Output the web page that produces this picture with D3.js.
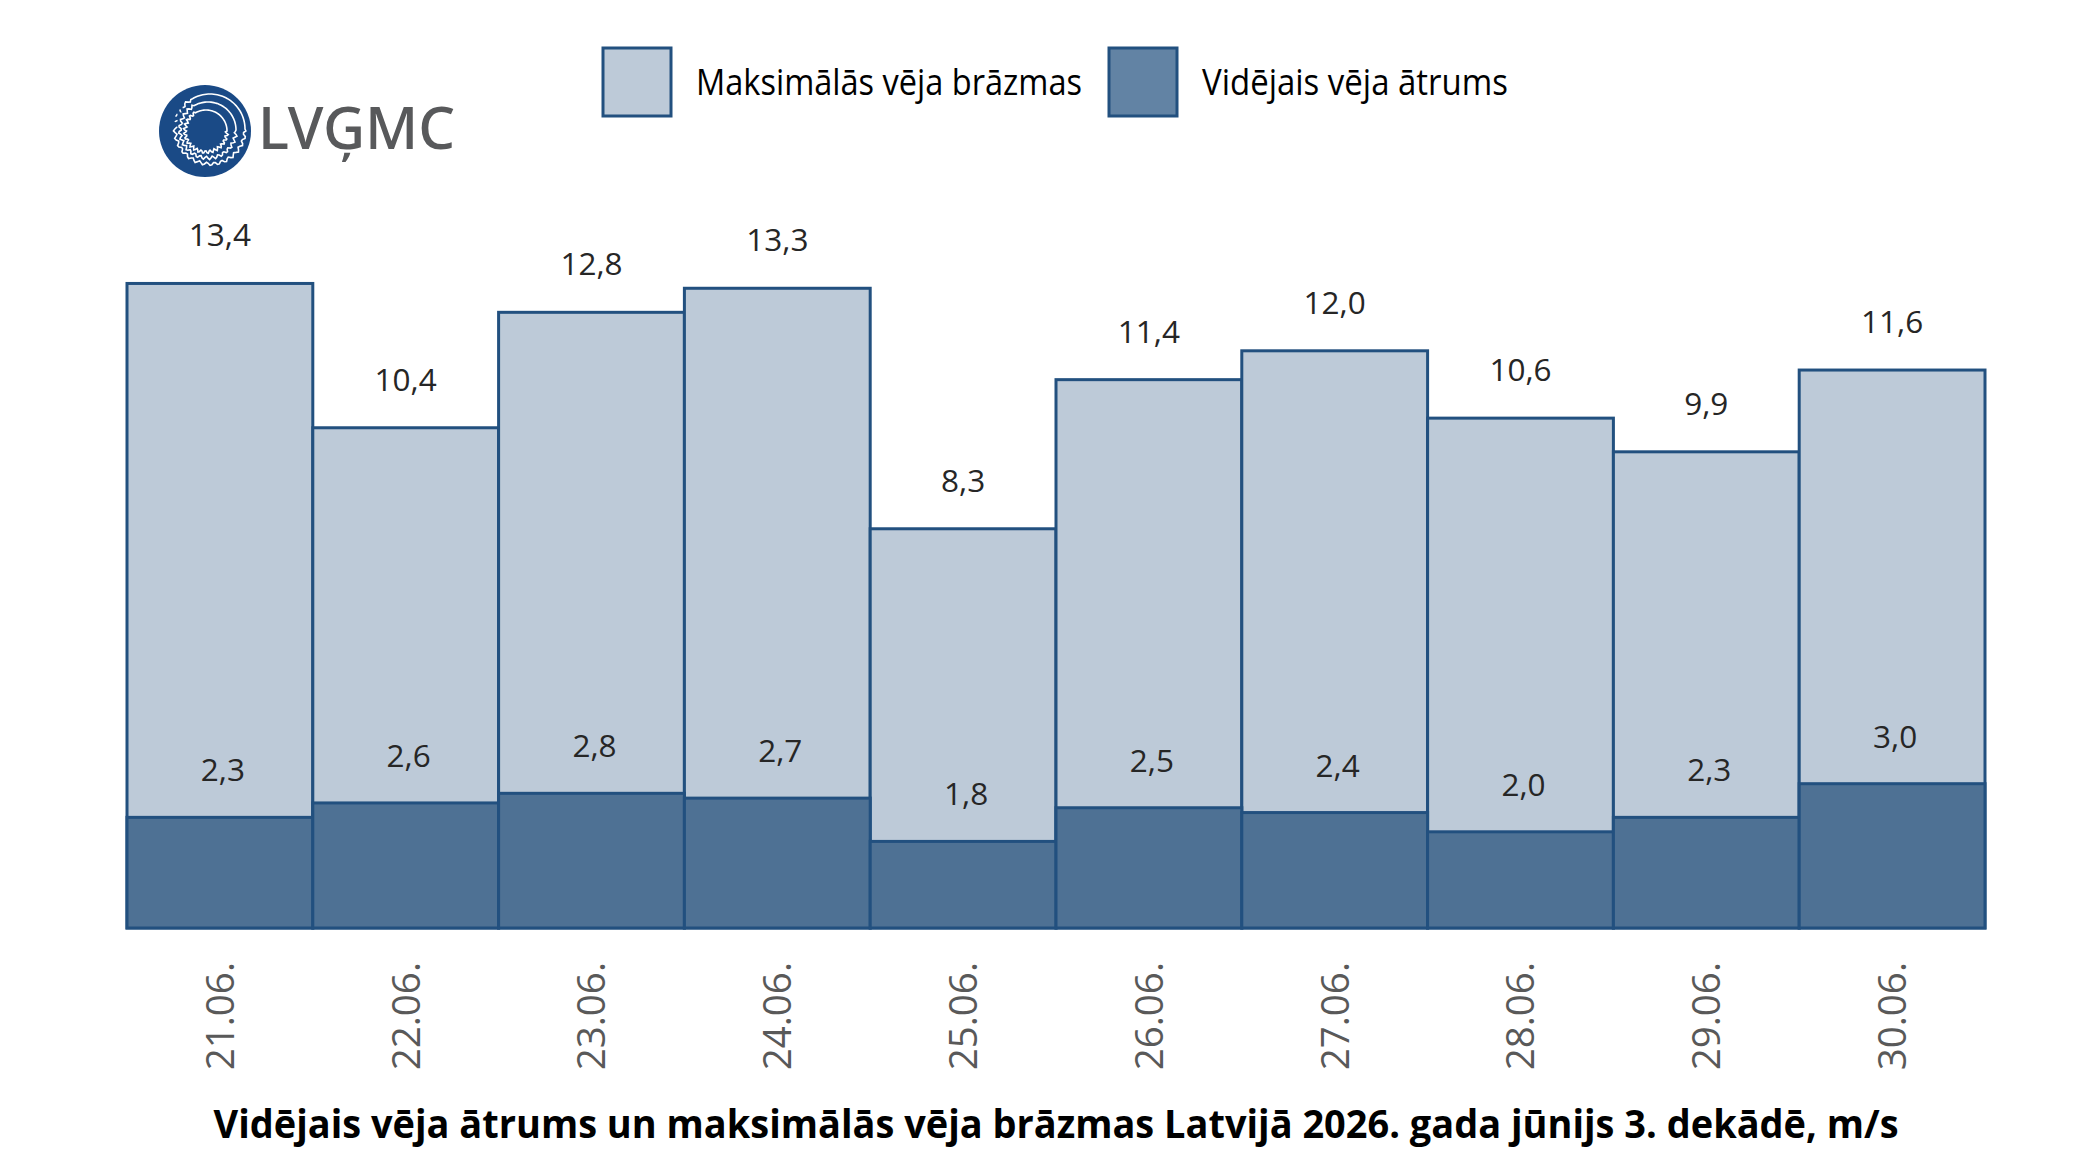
<!DOCTYPE html>
<html>
<head>
<meta charset="utf-8">
<script src="https://cdn.jsdelivr.net/npm/d3@7"></script>
<style>
  html, body { margin: 0; padding: 0; background: #fff; }
  svg { display: block; }
</style>
</head>
<body>
<svg id="chart"></svg>
<script>
var dates = ["21.06.", "22.06.", "23.06.", "24.06.", "25.06.", "26.06.", "27.06.", "28.06.", "29.06.", "30.06."];
var maxGusts = [13.4, 10.4, 12.8, 13.3, 8.3, 11.4, 12.0, 10.6, 9.9, 11.6];
var avgSpeed = [2.3, 2.6, 2.8, 2.7, 1.8, 2.5, 2.4, 2.0, 2.3, 3.0];
var seriesNames = ["Maksimālās vēja brāzmas", "Vidējais vēja ātrums"];
var titleText = "Vidējais vēja ātrums un maksimālās vēja brāzmas Latvijā 2026. gada jūnijs 3. dekādē, m/s";

(function() {
  var W = 2100, H = 1170;
  var lightFill = "#bdcad8", darkFill = "#4e7194", legendDark = "#6283a4", edge = "#22507f";
  var labelFont = "'Open Sans', 'Noto Sans', sans-serif";

  var svg = d3.select("#chart").attr("width", W).attr("height", H);

  var x = d3.scaleBand().domain(dates).range([127, 1985]).padding(0);
  var y = d3.scaleLinear().domain([0, 15]).range([928, 928 - 15 * 48.1]);

  var fmt = d3.formatLocale({ decimal: ",", thousands: " ", grouping: [3], currency: ["", ""] }).format(".1f");

  var rows = dates.map(function(d, i) {
    return { date: d, max: maxGusts[i], avg: avgSpeed[i] };
  });

  var plot = svg.append("g");

  // max gusts (light)
  plot.selectAll(".bar-max")
    .data(rows)
    .enter().append("rect")
    .attr("class", "bar-max")
    .attr("x", function(d) { return x(d.date); })
    .attr("width", x.bandwidth())
    .attr("y", function(d) { return y(d.max); })
    .attr("height", function(d) { return y(0) - y(d.max); })
    .attr("fill", lightFill)
    .attr("stroke", edge)
    .attr("stroke-width", 3);

  // average speed (dark)
  plot.selectAll(".bar-avg")
    .data(rows)
    .enter().append("rect")
    .attr("class", "bar-avg")
    .attr("x", function(d) { return x(d.date); })
    .attr("width", x.bandwidth())
    .attr("y", function(d) { return y(d.avg); })
    .attr("height", function(d) { return y(0) - y(d.avg); })
    .attr("fill", darkFill)
    .attr("stroke", edge)
    .attr("stroke-width", 3);

  // value labels
  plot.selectAll(".lbl-max")
    .data(rows)
    .enter().append("text")
    .attr("x", function(d) { return x(d.date) + x.bandwidth() / 2; })
    .attr("y", function(d) { return y(d.max) - 37; })
    .attr("text-anchor", "middle")
    .style("font-family", labelFont)
    .style("font-size", "31.5px")
    .attr("fill", "#262626")
    .text(function(d) { return fmt(d.max); });

  plot.selectAll(".lbl-avg")
    .data(rows)
    .enter().append("text")
    .attr("x", function(d) { return x(d.date) + x.bandwidth() / 2 + 3; })
    .attr("y", function(d) { return y(d.avg) - 36; })
    .attr("text-anchor", "middle")
    .style("font-family", labelFont)
    .style("font-size", "31.5px")
    .attr("fill", "#262626")
    .text(function(d) { return fmt(d.avg); });

  // x axis labels, rotated
  var xAxis = svg.append("g")
    .attr("transform", "translate(0," + y(0) + ")")
    .call(d3.axisBottom(x).tickSize(0).tickPadding(0));
  xAxis.select(".domain").remove();
  xAxis.selectAll(".tick text")
    .attr("transform", "translate(0,34) rotate(-90)")
    .attr("x", 0)
    .attr("y", 0)
    .attr("dy", "0.36em")
    .attr("text-anchor", "end")
    .style("font-family", labelFont)
    .style("font-size", "38.5px")
    .attr("fill", "#595959");

  // legend
  var legend = svg.append("g");
  var legendItems = [
    { name: seriesNames[0], fill: lightFill, x: 603, textLen: 386 },
    { name: seriesNames[1], fill: legendDark, x: 1109, textLen: 306 }
  ];
  legendItems.forEach(function(it) {
    legend.append("rect")
      .attr("x", it.x).attr("y", 48)
      .attr("width", 68).attr("height", 68)
      .attr("fill", it.fill)
      .attr("stroke", edge)
      .attr("stroke-width", 3);
    legend.append("text")
      .attr("x", it.x + 93)
      .attr("y", 95)
      .attr("textLength", it.textLen)
      .attr("lengthAdjust", "spacingAndGlyphs")
      .style("font-family", labelFont)
      .style("font-size", "37px")
      .attr("fill", "#000")
      .text(it.name);
  });

  // title
  svg.append("text")
    .attr("x", 1056)
    .attr("y", 1138)
    .attr("text-anchor", "middle")
    .attr("textLength", 1685)
    .attr("lengthAdjust", "spacingAndGlyphs")
    .style("font-family", labelFont)
    .style("font-weight", "bold")
    .style("font-size", "40px")
    .attr("fill", "#000")
    .text(titleText);

  // logo
  var logo = svg.append("g");
  logo.append("circle")
    .attr("cx", 205).attr("cy", 131).attr("r", 46)
    .attr("fill", "#1a4a86");
  var ringRadii = [35, 28, 21];
  ringRadii.forEach(function(r, k) {
    var pts = d3.range(0, 361, 3).map(function(a) {
      var rad = a * Math.PI / 180;
      var wobble = (a > 90 && a < 330) ? 1.6 * Math.sin(a * 0.5 + k) : 0;
      return [rad, r + wobble];
    });
    logo.append("path")
      .attr("transform", "translate(" + (210 - k * 2) + "," + (129 + k) + ")")
      .attr("d", d3.lineRadial().curve(d3.curveLinear)(pts))
      .attr("fill", "none")
      .attr("stroke", "#fff")
      .attr("stroke-width", 1.6)
      .attr("stroke-dasharray", k === 0 ? "200,6,3,4,3,4,3,4" : null);
  });
  logo.append("text")
    .attr("x", 258)
    .attr("y", 149)
    .style("font-family", "'Noto Sans', 'Open Sans', sans-serif")
    .style("font-size", "58px")
    .style("font-weight", "500")
    .attr("fill", "#58595b")
    .text("LVĢMC");
})();
</script>
</body>
</html>
